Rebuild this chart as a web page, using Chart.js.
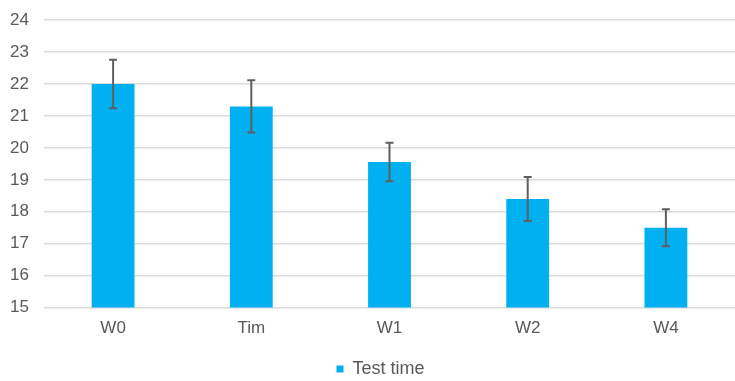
<!DOCTYPE html>
<html>
<head>
<meta charset="utf-8">
<script src="https://cdn.jsdelivr.net/npm/chart.js@4/dist/chart.umd.min.js"></script>
<style>
  html, body { margin: 0; padding: 0; background: #fff; overflow: hidden; }
  #wrap { position: relative; width: 735px; height: 381px; overflow: hidden; }
  #graph { position: absolute; left: 0; top: -5px; }
</style>
</head>
<body>
<div id="wrap"><canvas id="graph" width="735" height="393"></canvas></div>
<script>
'use strict';

// データ
let labels = ['W0', 'Tim', 'W1', 'W2', 'W4'];
let testTime = [22.0, 21.3, 19.56, 18.4, 17.5];
let errors = [0.76, 0.82, 0.6, 0.69, 0.58];
let yTicks = [15, 16, 17, 18, 19, 20, 21, 22, 23, 24];

// エラーバーを描くプラグイン
const errorBarPlugin = {
    id: 'errorBars',
    afterDatasetsDraw(chart) {
        let ctx = chart.ctx;
        let y = chart.scales.y;
        let meta = chart.getDatasetMeta(0);
        ctx.save();
        ctx.strokeStyle = '#5f5f5f';
        ctx.lineWidth = 2;
        for (let i = 0; i < meta.data.length; i++) {
            let x = meta.data[i].x;
            let top = y.getPixelForValue(testTime[i] + errors[i]);
            let bottom = y.getPixelForValue(testTime[i] - errors[i]);
            ctx.beginPath();
            ctx.moveTo(x, top);
            ctx.lineTo(x, bottom);
            ctx.moveTo(x - 4, top);
            ctx.lineTo(x + 4, top);
            ctx.moveTo(x - 4, bottom);
            ctx.lineTo(x + 4, bottom);
            ctx.stroke();
        }
        ctx.restore();
    }
};

// 凡例を少し右へずらす
const legendShift = {
    id: 'legendShift',
    afterLayout(chart) {
        if (chart.legend) {
            chart.legend.left += 13;
            chart.legend.right += 13;
        }
    }
};

let context = document.querySelector('#graph').getContext('2d');
let chart = new Chart(context, {
    type: 'bar',
    data: {
        labels: labels,
        datasets: [{
            label: 'Test time',
            data: testTime,
            backgroundColor: '#00b0f0',
            categoryPercentage: 1,
            barPercentage: 0.31
        }]
    },
    options: {
        responsive: false,
        animation: false,
        layout: { padding: { top: 1, right: 0, left: 0, bottom: 0 } },
        scales: {
            x: {
                grid: { display: false, drawTicks: false },
                border: { display: false },
                ticks: { color: '#595959', font: { family: 'Liberation Sans', size: 17 }, padding: 11 },
                afterFit: function(axis) { axis.height += 9; }
            },
            y: {
                min: 15,
                max: 24,
                afterBuildTicks: function(axis) {
                    axis.ticks = yTicks.map(v => ({ value: v }));
                },
                afterFit: function(axis) { axis.width = 44; },
                grid: { color: '#d9d9d9', lineWidth: 1.5, drawTicks: false },
                border: { display: false },
                ticks: { color: '#595959', font: { family: 'Liberation Sans', size: 17 }, padding: 15 }
            }
        },
        plugins: {
            tooltip: { enabled: false },
            legend: {
                position: 'bottom',
                labels: {
                    boxWidth: 7,
                    boxHeight: 7,
                    color: '#595959',
                    font: { family: 'Liberation Sans', size: 18 },
                    padding: 1
                }
            }
        }
    },
    plugins: [errorBarPlugin, legendShift]
});
</script>
</body>
</html>
